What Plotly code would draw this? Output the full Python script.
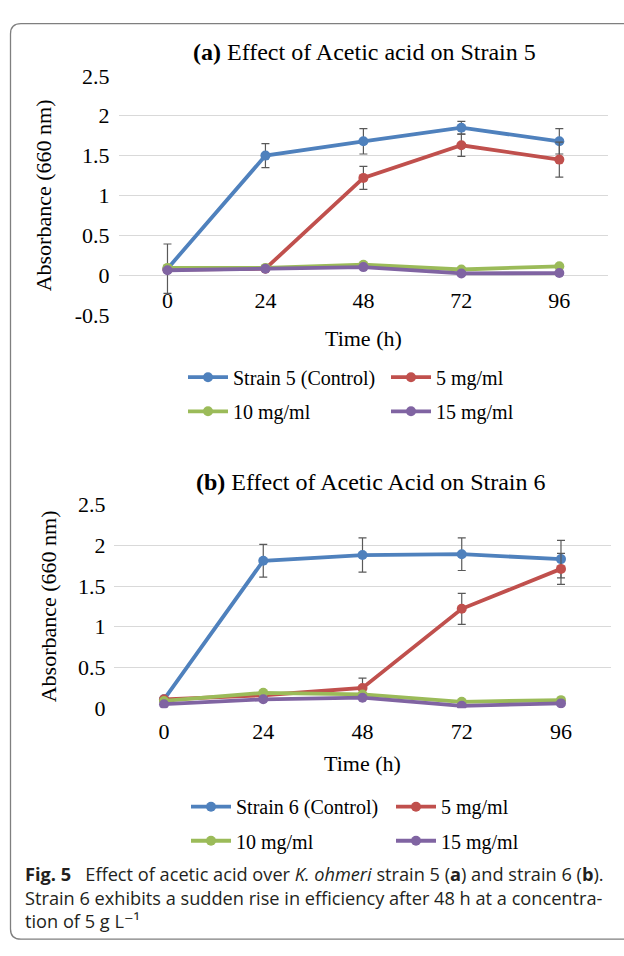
import plotly.graph_objects as go

W, H = 624, 956

# ---------------- data ----------------
time_labels = ["0", "24", "48", "72", "96"]

a_names = ["Strain 5 (Control)", "5 mg/ml", "10 mg/ml", "15 mg/ml"]
a_control = [0.08, 1.50, 1.68, 1.85, 1.68]
a_control_err = [0.31, 0.15, 0.16, 0.08, 0.16]
a_5mg = [0.07, 0.08, 1.22, 1.63, 1.45]
a_5mg_err = [None, None, 0.145, 0.14, 0.22]
a_10mg = [0.09, 0.09, 0.13, 0.07, 0.11]
a_15mg = [0.06, 0.08, 0.10, 0.02, 0.025]

b_names = ["Strain 6 (Control)", "5 mg/ml", "10 mg/ml", "15 mg/ml"]
b_control = [0.11, 1.81, 1.88, 1.89, 1.83]
b_control_err = [None, 0.20, 0.21, 0.20, 0.23]
b_5mg = [0.11, 0.16, 0.25, 1.22, 1.71]
b_5mg_err = [None, None, 0.12, 0.19, 0.19]
b_10mg = [0.09, 0.19, 0.17, 0.08, 0.10]
b_15mg = [0.05, 0.11, 0.13, 0.03, 0.06]

a_yticks = [-0.5, 0, 0.5, 1, 1.5, 2, 2.5]
a_yticktext = ["-0.5", "0", "0.5", "1", "1.5", "2", "2.5"]
b_yticks = [0, 0.5, 1, 1.5, 2, 2.5]
b_yticktext = ["0", "0.5", "1", "1.5", "2", "2.5"]

# ---------------- style ----------------
colors = ["#4F81BD", "#C0504D", "#9BBB59", "#8064A2"]
SERIF = "Liberation Serif, Times New Roman, serif"
ERR_COLOR = "#595959"


def px(x):
    return x / W


def py(y):
    return 1 - y / H


fig = go.Figure()


def add_series(xa, ya, name, ys, err, color, legend):
    kw = {}
    if err is not None:
        kw["error_y"] = dict(type="data", array=err, visible=True,
                             color=ERR_COLOR, thickness=1.2, width=4)
    fig.add_trace(go.Scatter(
        x=time_labels, y=ys, name=name, mode="lines+markers",
        line=dict(color=color, width=3.8),
        marker=dict(color=color, size=10),
        xaxis=xa, yaxis=ya, legend=legend, **kw))


add_series("x", "y", a_names[0], a_control, a_control_err, colors[0], "legend")
add_series("x", "y", a_names[1], a_5mg, a_5mg_err, colors[1], "legend")
add_series("x", "y", a_names[2], a_10mg, None, colors[2], "legend2")
add_series("x", "y", a_names[3], a_15mg, None, colors[3], "legend2")

add_series("x2", "y2", b_names[0], b_control, b_control_err, colors[0], "legend3")
add_series("x2", "y2", b_names[1], b_5mg, b_5mg_err, colors[1], "legend3")
add_series("x2", "y2", b_names[2], b_10mg, None, colors[2], "legend4")
add_series("x2", "y2", b_names[3], b_15mg, None, colors[3], "legend4")

# panel geometry (pixels)
a_left, a_right, a_top, a_bot = 118.5, 608.3, 65.7, 311.0
b_left, b_right, b_top, b_bot = 114.4, 610.6, 505.7, 715.0

a_ydom = [py(a_bot), py(a_top)]
a_xpos = a_ydom[0] + (0 - (-0.5)) / 3.0 * (a_ydom[1] - a_ydom[0])

tickfont = dict(family=SERIF, size=22, color="#000000")
titlefont = dict(family=SERIF, size=22, color="#000000")

common_x = dict(type="category", range=[-0.5, 4.5], showgrid=False,
                zeroline=False, showline=False, ticks="", tickfont=tickfont)
common_y = dict(showgrid=True, gridcolor="#D9D9D9", gridwidth=1,
                zeroline=False, showline=False, ticks="", tickfont=tickfont,
                ticklabelstandoff=8)

fig.update_layout(
    width=W, height=H,
    margin=dict(l=0, r=0, t=0, b=0),
    paper_bgcolor="white", plot_bgcolor="white",
    xaxis=dict(domain=[px(a_left), px(a_right)], anchor="free",
               position=a_xpos, ticklabelstandoff=10,
               title=dict(text="Time (h)", font=titlefont, standoff=18),
               **common_x),
    yaxis=dict(domain=a_ydom, anchor="x", range=[-0.5, 2.5],
               tickvals=a_yticks, ticktext=a_yticktext,
               title=dict(text="Absorbance (660 nm)", font=titlefont, standoff=16),
               **common_y),
    xaxis2=dict(domain=[px(b_left), px(b_right)], anchor="y2",
                ticklabelstandoff=8,
                title=dict(text="Time (h)", font=titlefont, standoff=12),
                **common_x),
    yaxis2=dict(domain=[py(b_bot), py(b_top)], anchor="x2", range=[0, 2.5],
                tickvals=b_yticks, ticktext=b_yticktext,
                title=dict(text="Absorbance (660 nm)", font=titlefont, standoff=15),
                **common_y),
)

legend_common = dict(orientation="h", xanchor="left", yanchor="middle",
                     entrywidthmode="pixels",
                     font=dict(family=SERIF, size=20, color="#000000"),
                     bgcolor="rgba(0,0,0,0)", itemwidth=40,
                     tracegroupgap=0)
fig.update_layout(
    legend=dict(x=px(183), y=py(375), entrywidth=148, **legend_common),
    legend2=dict(x=px(183), y=py(410), entrywidth=148, **legend_common),
    legend3=dict(x=px(186), y=py(816), entrywidth=150, **legend_common),
    legend4=dict(x=px(186), y=py(851), entrywidth=150, **legend_common),
)

# panel titles
fig.add_annotation(text="<b>(a)</b> Effect of Acetic acid on Strain 5",
                   x=px(364), y=py(41.5), xref="paper", yref="paper",
                   xanchor="center", yanchor="middle", showarrow=False,
                   font=dict(family=SERIF, size=24, color="#000000"))
fig.add_annotation(text="<b>(b)</b> Effect of Acetic Acid on Strain 6",
                   x=px(370), y=py(482.5), xref="paper", yref="paper",
                   xanchor="center", yanchor="middle", showarrow=False,
                   font=dict(family=SERIF, size=24, color="#000000"))

# caption (one text block, three lines)
CAP = "Open Sans, DejaVu Sans, sans-serif"
caption = ("<b>Fig. 5</b>\u00a0\u00a0\u00a0Effect of acetic acid over <i>K. ohmeri</i> strain 5 (<b>a</b>) "
           "and strain 6 (<b>b</b>).<br>"
           "Strain 6 exhibits a sudden rise in efficiency after 48 h at a concentra-<br>"
           "tion of 5 g L\u207b\u00b9")
fig.add_annotation(text=caption, x=px(23), y=py(909), xref="paper", yref="paper",
                   xanchor="left", yanchor="middle", showarrow=False, align="left",
                   font=dict(family=CAP, size=18.2, color="#231F20"))

# outer frame
def P(x, y):
    return f"{px(x):.5f},{py(y):.5f}"

frame = (f"M {P(640, 12)} L {P(21, 12)} Q {P(10.5, 12)} {P(10.5, 22.5)} "
         f"L {P(10.5, 941.5)} Q {P(10.5, 952)} {P(21, 952)} L {P(640, 952)}")
fig.add_shape(type="path", path=frame, xref="paper", yref="paper",
              line=dict(color="#7F7F7F", width=1.3))

post = (
    "document.documentElement.style.margin='0';"
    "document.documentElement.style.padding='0';"
    "document.body.style.margin='0';document.body.style.padding='0';"
    "document.body.style.overflow='hidden';"
    "var gd=document.getElementById('{plot_id}');"
    "gd.style.position='fixed';gd.style.left='0px';gd.style.top='0px';"
)

fig.write_html("out.html", config={"displayModeBar": False}, post_script=post)
